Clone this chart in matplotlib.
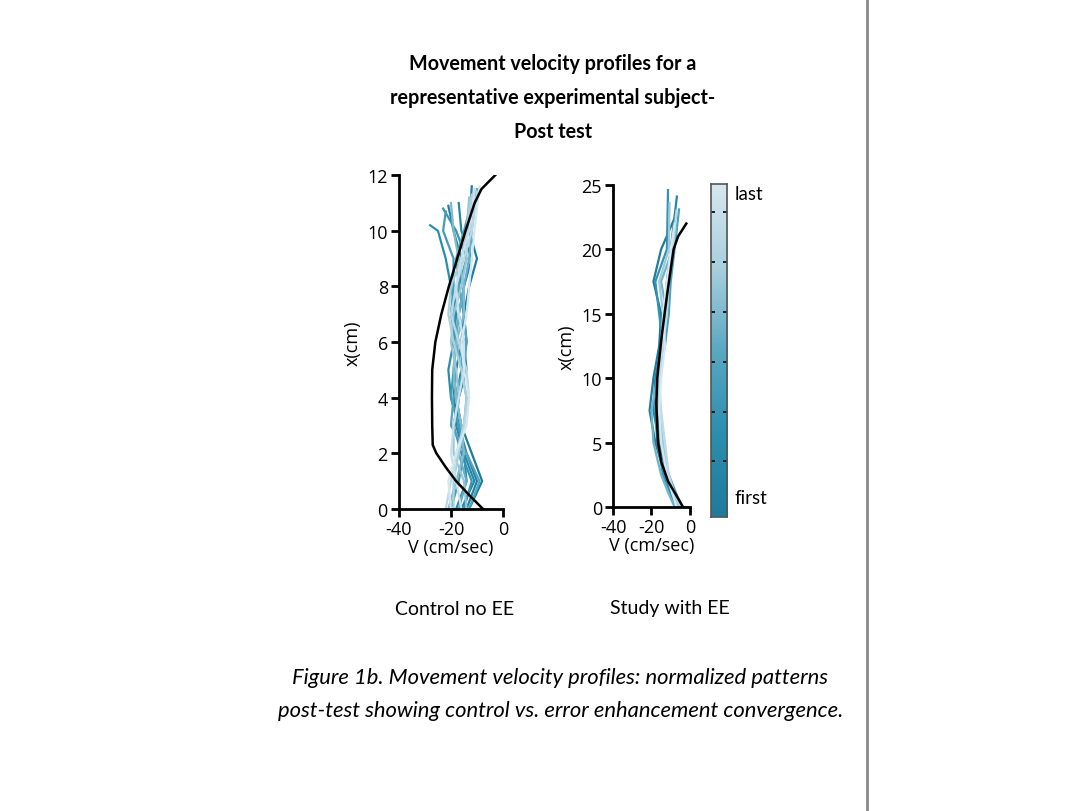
import numpy as np
import matplotlib.pyplot as plt
from matplotlib.colors import LinearSegmentedColormap
from matplotlib.lines import Line2D

plt.rcParams["axes.unicode_minus"] = False

# control (no EE): black mean curve, x (cm) vs velocity (cm/sec)
ctrl_mean_x = [0, 0.5, 1, 1.5, 2, 2.3, 3, 4, 5, 6, 7, 8, 9, 10, 11, 11.5, 12]
ctrl_mean_v = [-7.7, -13, -18, -22, -25.6, -27, -27.2, -27.3, -27.2, -26, -23.7, -20.8, -17.6, -14.4, -10.9, -8.3, -3]

# control trials (first -> last), v at x = 0..10 then an end point
ctrl_x = [0, 1, 2, 3, 4, 5, 6, 7, 8, 9, 10]
ctrl_trials = [
    ([-13, -8, -12, -16, -18, -16, -14, -15, -13, -10, -13], (11.6, -12)),
    ([-14, -10, -14, -17, -19, -18, -16, -15, -17, -16, -19], (10.9, -21)),
    ([-16, -11, -15, -18, -17, -14, -15, -17, -15, -12, -16], (11.0, -17)),
    ([-18, -14, -15, -17, -20, -21, -19, -18, -20, -22, -25], (10.2, -28)),
    ([-15, -12, -16, -19, -17, -15, -17, -19, -17, -14, -18], (10.8, -23)),
    ([-20, -17, -15, -17, -20, -19, -18, -20, -19, -19, -23], (10.7, -22)),
    ([-13, -9, -14, -20, -19, -15, -14, -15, -17, -18, -15], (11.4, -11)),
    ([-17, -14, -17, -15, -14, -16, -18, -17, -15, -13, -12], (11.5, -10)),
    ([-21, -18, -15, -16, -18, -19, -18, -15, -15, -17, -19], (11.0, -20)),
    ([-14, -15, -19, -19, -17, -18, -20, -19, -16, -14, -14], (11.2, -13)),
    ([-19, -19, -17, -15, -14, -16, -19, -21, -20, -16, -14], (11.3, -12)),
    ([-22, -20, -18, -15, -13, -14, -17, -20, -18, -15, -12], (11.4, -10)),
    ([-16, -18, -20, -19, -17, -15, -15, -17, -18, -16, -13], (11.5, -11)),
    ([-20, -21, -18, -14, -13, -15, -16, -14, -13, -12, -11], (11.6, -9)),
]

# study (with EE)
study_mean_x = [0, 2, 3.5, 5, 8, 10, 13, 15, 17, 20, 21, 22]
study_mean_v = [-3.6, -11.4, -14.9, -16.6, -17.5, -17, -14.9, -13.2, -11.4, -8.5, -6.2, -1.9]

study_x = [0, 1, 2.5, 5, 7.5, 10, 12.5, 15, 17.5, 20]
study_trials = [
    ([-6, -9, -13, -18, -21, -19, -16, -15, -19, -15], (22.6, -7.5)),
    ([-5, -8, -12, -16, -19, -18, -15, -13, -12, -10], (24.1, -6.8)),
    ([-7, -10, -14, -17, -18, -16, -14, -16, -18, -12], (24.6, -11.4)),
    ([-4, -7, -11, -15, -17, -17, -13, -11, -10, -8], (23.1, -5.7)),
    ([-8, -11, -15, -19, -20, -17, -14, -12, -15, -9], (21.7, -7.1)),
    ([-6, -9, -12, -14, -16, -17, -15, -14, -16, -11], (23.6, -10.6)),
    ([-5, -8, -11, -13, -15, -16, -14, -12, -11, -9], (23.0, -7.0)),
    ([-7, -9, -12, -15, -16, -15, -13, -14, -12, -10], (22.0, -8.0)),
]

cmap = LinearSegmentedColormap.from_list(
    "trials", ["#1f7b9b", "#2a8fae", "#5aa8c2", "#a9cfdd", "#d6e8ef"])

fig = plt.figure(figsize=(10.84, 8.12), dpi=100)
tick_font = "Open Sans"
text_font = "Lato"


def style_axes(ax):
    for s in ["top", "right"]:
        ax.spines[s].set_visible(False)
    for s in ["left", "bottom"]:
        ax.spines[s].set_linewidth(2)
    ax.tick_params(direction="out", length=6, width=2, labelsize=13, pad=2)
    for lab in ax.get_xticklabels() + ax.get_yticklabels():
        lab.set_family(tick_font)
    ax.set_xlim(-40, 0)
    ax.set_xticks([-40, -20, 0])
    ax.set_xlabel("V (cm/sec)", fontsize=13, family=tick_font, labelpad=0)
    ax.set_ylabel("x(cm)", fontsize=13, family=tick_font, labelpad=4)


ax1 = fig.add_axes([0.368, 0.372, 0.096, 0.411])
n = len(ctrl_trials)
for i, (vs, end) in enumerate(ctrl_trials):
    xs = ctrl_x + [end[0]]
    v = vs + [end[1]]
    ax1.plot(v, xs, color=cmap(i / (n - 1)), lw=1.6)
ax1.plot(ctrl_mean_v, ctrl_mean_x, color="black", lw=1.8)
ax1.set_ylim(0, 12)
ax1.set_yticks(range(0, 13, 2))
style_axes(ax1)

ax2 = fig.add_axes([0.5655, 0.3744, 0.071, 0.3966])
n = len(study_trials)
for i, (vs, end) in enumerate(study_trials):
    xs = study_x + [end[0]]
    v = vs + [end[1]]
    ax2.plot(v, xs, color=cmap(i / (n - 1)), lw=1.6)
ax2.plot(study_mean_v, study_mean_x, color="black", lw=1.8)
ax2.set_ylim(0, 25)
ax2.set_yticks(range(0, 26, 5))
style_axes(ax2)

# colorbar
cax = fig.add_axes([0.656, 0.362, 0.0148, 0.410])
cax.imshow(np.linspace(0, 1, 256)[:, None], cmap=cmap, aspect="auto",
           origin="lower", extent=[0, 1, 0, 1])
cbar_ticks = [0.167, 0.317, 0.467, 0.617, 0.767, 0.917]
cax.set_yticks(cbar_ticks)
cax.set_xticks([])
cax.tick_params(axis="y", direction="in", length=3, width=1.2, left=True,
                right=True, labelleft=False)
for s in cax.spines.values():
    s.set_linewidth(1.2)
    s.set_color("#555555")
fig.text(0.678, 0.760, "last", fontsize=13.5, family=text_font, va="center")
fig.text(0.678, 0.386, "first", fontsize=13.5, family=text_font, va="center")

fig.text(0.51, 0.933, "Movement velocity profiles for a\nrepresentative experimental subject-\nPost test",
         ha="center", va="top", fontsize=14.2, fontweight="bold", family=text_font,
         linespacing=1.85)

fig.text(0.419, 0.249, "Control no EE", ha="center", va="center", fontsize=14, family=text_font)
fig.text(0.618, 0.251, "Study with EE", ha="center", va="center", fontsize=14, family=text_font)

fig.text(0.517, 0.1445, "Figure 1b. Movement velocity profiles: normalized patterns\n"
         "post-test showing control vs. error enhancement convergence.",
         ha="center", va="center", fontsize=15.8, style="italic", family=text_font,
         linespacing=1.85)

# page edge on the right
fig.add_artist(Line2D([0.8, 0.8], [0, 1], transform=fig.transFigure,
                      color="#8a8a8a", lw=2))

fig.savefig("out.png", dpi=100)
